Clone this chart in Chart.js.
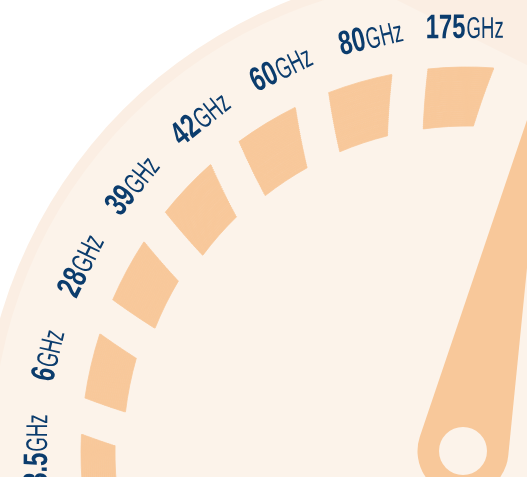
<!DOCTYPE html>
<html>
<head>
<meta charset="utf-8">
<script src="https://cdn.jsdelivr.net/npm/chart.js@4.4.1/dist/chart.umd.min.js"></script>
<style>
  html, body { margin: 0; padding: 0; background: #fff; overflow: hidden; }
  #wrap { position: relative; width: 527px; height: 477px; }
</style>
</head>
<body>
<div id="wrap"><canvas id="gauge"></canvas></div>
<script>
// band labels around the dial, left to right
const bandNumbers = ['3.5', '6', '28', '39', '42', '60', '80', '175'];
const bandUnit = 'GHz';
// dial blocks, all the same size
const segmentValues = [1, 1, 1, 1, 1, 1, 1];
// needle, degrees clockwise from 12 o'clock
const needleAngle = 12.2;

const FACE = '#fcf3ea';
const RIM = '#fbeee3';
const SEG = '#f8c89a';
const INK = '#0b3c6d';
const CLEAR = 'rgba(0,0,0,0)';

// dial geometry
const outerR = 386, innerR = 327;
const slotDeg = 15.2;          // one block + one gap
const firstCenter = -92.1;     // centre of the first block on the outer edge
const gapPx = 36.5;            // gaps keep a constant width
const skew = 0.0405;           // deg of twist per px towards the hub
const labelSweep = 12.76, labelStart = -96;
// how far in each block reaches (px from centre)
const blockDepth = [352, 344, 337, 331, 327, 327, 327];

// thin rings so the block edges can lean and taper
const ringEdges = [];
for (let r = outerR; r > innerR; r -= 2) ringEdges.push(r);
ringEdges.push(innerR);

const labelData = bandNumbers.map(() => labelSweep);
labelData.push(360 - labelSweep * bandNumbers.length);

function segRing(j) {
  const outer = ringEdges[j], inner = ringEdges[j + 1];
  const rm = (outer + inner) / 2;
  const gapDeg = gapPx / rm * 180 / Math.PI;
  const segDeg = slotDeg - gapDeg;
  const data = [], colors = [];
  segmentValues.forEach((v, i) => {
    data.push(v * segDeg);
    colors.push(blockDepth[i] <= inner + 1 ? SEG : CLEAR);
    if (i < segmentValues.length - 1) {
      data.push(gapDeg);
      colors.push(CLEAR);
    }
  });
  data.push(360 - data.reduce((a, b) => a + b, 0));
  colors.push(CLEAR);
  return {
    data: data,
    backgroundColor: colors,
    borderColor: colors,
    borderWidth: 0.8,
    weight: outer - inner,
    rotation: firstCenter - skew * (outerR - rm) - segDeg / 2
  };
}

const backdrop = {
  id: 'backdrop',
  beforeDraw(chart) {
    const ctx = chart.ctx;
    const a = chart.getDatasetMeta(1).data[0];
    const cx = a.x, cy = a.y;
    ctx.save();
    ctx.fillStyle = '#ffffff';
    ctx.fillRect(0, 0, chart.width, chart.height);
    ctx.fillStyle = RIM;
    ctx.beginPath();
    ctx.arc(cx, cy, 486, 0, Math.PI * 2);
    ctx.fill();
    ctx.fillStyle = FACE;
    ctx.beginPath();
    ctx.arc(cx, cy, 475, 0, Math.PI * 2);
    ctx.fill();
    // darker rim showing at the top right
    ctx.fillStyle = RIM;
    ctx.beginPath();
    ctx.moveTo(cx - 70, 0);
    ctx.lineTo(chart.width, (chart.width - (cx - 70)) * 0.5);
    ctx.lineTo(chart.width, 0);
    ctx.closePath();
    ctx.fill();
    ctx.restore();
  }
};

const needle = {
  id: 'needle',
  afterDatasetsDraw(chart) {
    const ctx = chart.ctx;
    const a = chart.getDatasetMeta(1).data[0];
    const cx = a.x - 4, cy = a.y - 2;   // pivot sits slightly left of the dial centre
    const ang = (needleAngle - 90) * Math.PI / 180;
    const len = 402, base = 45.5;
    const t = Math.acos(base / len);
    ctx.save();
    ctx.fillStyle = SEG;
    ctx.beginPath();
    ctx.moveTo(cx + Math.cos(ang) * len, cy + Math.sin(ang) * len);
    ctx.arc(cx, cy, base, ang - t, ang + t, true);
    ctx.closePath();
    ctx.fill();
    ctx.fillStyle = FACE;
    ctx.beginPath();
    ctx.arc(cx, cy, 24, 0, Math.PI * 2);
    ctx.fill();
    ctx.restore();
  }
};

const bandLabels = {
  id: 'bandLabels',
  afterDatasetsDraw(chart) {
    const ctx = chart.ctx;
    const arcs = chart.getDatasetMeta(0).data;
    const numFont = 'bold 34px "Liberation Sans", Arial, sans-serif';
    const unitFont = '30px "Liberation Sans", Arial, sans-serif';
    const numScale = 0.7, unitScale = 0.62;
    const n = bandNumbers.length;
    bandNumbers.forEach((num, i) => {
      const arc = arcs[i];
      const mid = (arc.startAngle + arc.endAngle) / 2;
      // labels sit a touch further out on the left side of the dial
      const r = outerR + 29 + 5 * (1 - i / (n - 1));
      ctx.save();
      ctx.translate(arc.x + Math.cos(mid) * r, arc.y + Math.sin(mid) * r);
      ctx.rotate(mid + Math.PI / 2);
      ctx.fillStyle = INK;
      ctx.textBaseline = 'alphabetic';
      ctx.textAlign = 'left';
      ctx.font = numFont;
      const wn = ctx.measureText(num).width * numScale;
      ctx.font = unitFont;
      const wu = ctx.measureText(bandUnit).width * unitScale;
      const x0 = -(wn + wu + 1) / 2;
      ctx.save();
      ctx.translate(x0, 0);
      ctx.scale(numScale, 1);
      ctx.font = numFont;
      ctx.fillText(num, 0, 0);
      ctx.restore();
      ctx.save();
      ctx.translate(x0 + wn + 1, 0);
      ctx.scale(unitScale, 1);
      ctx.font = unitFont;
      ctx.fillText(bandUnit, 0, 0);
      ctx.restore();
      ctx.restore();
    });
  }
};

const datasets = [{
  data: labelData,
  backgroundColor: CLEAR,
  borderWidth: 0,
  weight: 0,
  rotation: labelStart
}];
for (let j = 0; j < ringEdges.length - 1; j++) datasets.push(segRing(j));

new Chart(document.getElementById('gauge'), {
  type: 'doughnut',
  data: {
    labels: bandNumbers.map(n => n + bandUnit).concat(['']),
    datasets: datasets
  },
  options: {
    responsive: true,
    maintainAspectRatio: false,
    animation: false,
    events: [],
    radius: outerR,
    cutout: (innerR / outerR * 100) + '%',
    layout: { padding: { left: 407, top: 429, right: 0, bottom: 0 } },
    plugins: {
      legend: { display: false },
      tooltip: { enabled: false }
    }
  },
  plugins: [backdrop, needle, bandLabels]
});
</script>
</body>
</html>
